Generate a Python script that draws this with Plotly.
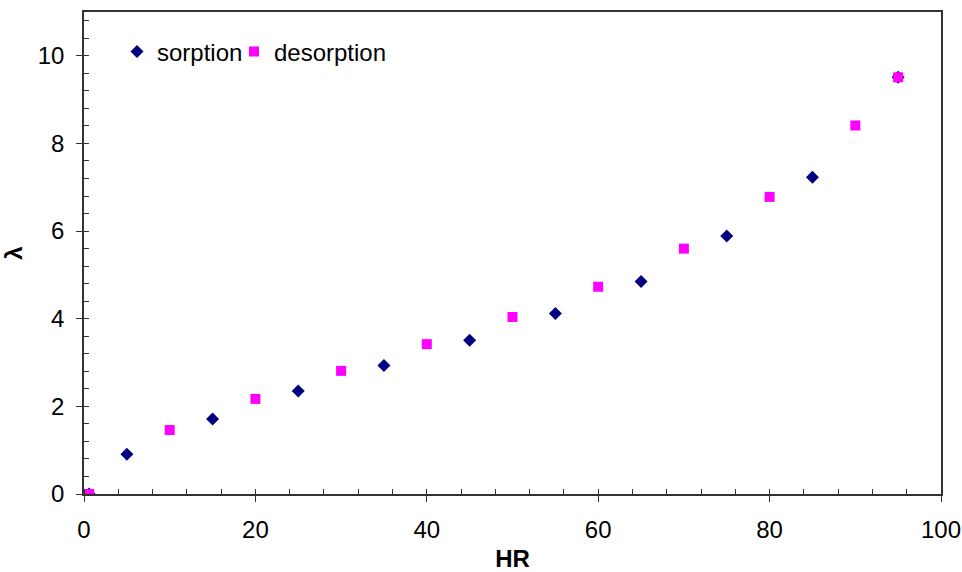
import plotly.graph_objects as go

hr_sorption = [0.6, 5, 15, 25, 35, 45, 55, 65, 75, 85, 95]
lam_sorption = [0.0, 0.91, 1.71, 2.35, 2.93, 3.51, 4.12, 4.85, 5.89, 7.23, 9.51]
hr_desorption = [0.6, 10, 20, 30, 40, 50, 60, 70, 80, 90, 95]
lam_desorption = [0.0, 1.46, 2.17, 2.81, 3.42, 4.04, 4.73, 5.60, 6.78, 8.41, 9.51]

FONT = "Liberation Sans, Arial, sans-serif"
AX = "#333333"
FS = 24

fig = go.Figure()
fig.add_trace(go.Scatter(x=hr_sorption, y=lam_sorption, mode="markers", name="sorption",
                         legend="legend",
                         marker=dict(symbol="diamond", size=10, color="#000080")))
fig.add_trace(go.Scatter(x=hr_desorption, y=lam_desorption, mode="markers", name="desorption",
                         legend="legend2",
                         marker=dict(symbol="square", size=10, color="#FF00FF")))

leg_common = dict(orientation="h", xanchor="left", yanchor="top", y=0.964,
                  bgcolor="rgba(0,0,0,0)", font=dict(size=FS, family=FONT), itemwidth=30)

fig.update_layout(
    width=962, height=572,
    margin=dict(l=84, r=21, t=12, b=78),
    paper_bgcolor="white", plot_bgcolor="white",
    font=dict(family=FONT, size=FS, color="black"),
    showlegend=True,
    legend=dict(x=0.0385, **leg_common),
    legend2=dict(x=0.175, **leg_common),
    xaxis=dict(range=[0, 100], dtick=20, showgrid=False, zeroline=False, automargin=False,
               showline=True, linecolor=AX, linewidth=1.5, mirror=True,
               ticks="outside", ticklen=6, tickcolor=AX, tickwidth=1,
               minor=dict(dtick=4, ticks="inside", ticklen=5, tickcolor=AX),
               tickfont=dict(size=FS, family=FONT), ticklabelstandoff=7,
               title=dict(text="<b>HR</b>", font=dict(size=FS, family=FONT), standoff=14)),
    yaxis=dict(range=[0, 11], tickvals=[0, 2, 4, 6, 8, 10], showgrid=False, zeroline=False,
               automargin=False,
               showline=True, linecolor=AX, linewidth=1.5, mirror=True,
               ticks="outside", ticklen=6, tickcolor=AX, tickwidth=1,
               minor=dict(dtick=0.4, ticks="inside", ticklen=5, tickcolor=AX),
               tickfont=dict(size=FS, family=FONT), ticklabelstandoff=7,
               title=dict(text="<b>λ</b>", font=dict(size=FS, family=FONT), standoff=10)),
    xaxis2=dict(range=[0, 100], dtick=20, overlaying="x", side="bottom", anchor="y",
                showgrid=False, zeroline=False, showline=False, showticklabels=False,
                automargin=False, ticks="inside", ticklen=5, tickcolor=AX),
    yaxis2=dict(range=[0, 11], tickvals=[0, 2, 4, 6, 8, 10], overlaying="y", side="left", anchor="x",
                showgrid=False, zeroline=False, showline=False, showticklabels=False,
                automargin=False, ticks="inside", ticklen=5, tickcolor=AX),
)
# invisible trace to activate the overlay axes (crossing major ticks)
fig.add_trace(go.Scatter(x=[None], y=[None], xaxis="x2", yaxis="y2", showlegend=False,
                         hoverinfo="skip"))

fig.write_html("out.html", config={"displayModeBar": False},
               post_script="document.body.style.margin='0';document.body.style.overflow='hidden';")
